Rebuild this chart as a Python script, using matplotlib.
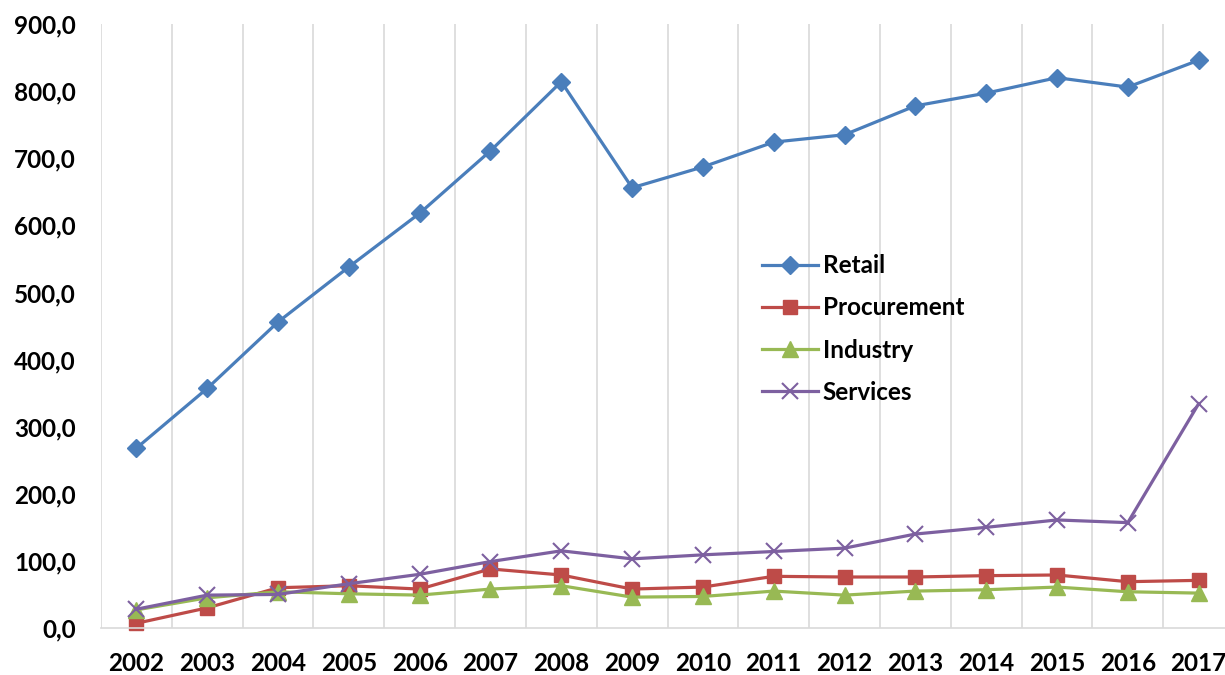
import matplotlib
matplotlib.use("Agg")
import matplotlib.pyplot as plt
from matplotlib.ticker import FuncFormatter, FixedLocator

years = [str(y) for y in range(2002, 2018)]
retail = [268, 357, 456, 538, 618, 711, 814, 656, 687, 724, 735, 778, 797, 820, 806, 846]
procurement = [7, 30, 60, 63, 58, 88, 79, 58, 61, 77, 76, 76, 78, 79, 69, 71]
industry = [27, 45, 54, 51, 49, 58, 63, 46, 47, 55, 49, 55, 57, 61, 54, 52]
services = [28, 49, 50, 66, 80, 99, 115, 103, 109, 114, 119, 140, 150, 161, 157, 334]

plt.rcParams["font.family"] = ["Lato", "DejaVu Sans"]
plt.rcParams["font.weight"] = "bold"

fig = plt.figure(figsize=(12.25, 6.75), dpi=100)
ax = fig.add_axes([101 / 1225, 47 / 675, 1133 / 1225, 604 / 675])

x = list(range(len(years)))
ax.plot(x, retail, color="#4A7EBB", lw=2.3, marker="D", ms=9.5, label="Retail", clip_on=False)
ax.plot(x, procurement, color="#BE4B48", lw=2.3, marker="s", ms=10.5, label="Procurement", clip_on=False)
ax.plot(x, industry, color="#98B954", lw=2.3, marker="^", ms=12, label="Industry", clip_on=False)
ax.plot(x, services, color="#7D60A0", lw=2.3, marker="x", ms=12, mew=1.5, label="Services", clip_on=False)

ax.set_xlim(-0.5, len(years) - 0.5)
ax.set_ylim(0, 900)
ax.set_xticks(x)
ax.set_xticklabels(years)
ax.xaxis.set_minor_locator(FixedLocator([i - 0.5 for i in range(len(years) + 1)]))
ax.grid(which="minor", axis="x", color="#d9d9d9", lw=1.2)
ax.set_yticks(range(0, 901, 100))
ax.yaxis.set_major_formatter(FuncFormatter(lambda v, p: f"{v:.1f}".replace(".", ",")))
ax.tick_params(axis="both", which="both", length=0, labelsize=17.5)
ax.tick_params(axis="x", pad=17)
ax.tick_params(axis="y", pad=18)
for s in ["top", "right", "left"]:
    ax.spines[s].set_visible(False)
ax.spines["bottom"].set_color("#d9d9d9")
ax.spines["bottom"].set_linewidth(1.2)
ax.set_axisbelow(True)

ax.legend(loc="upper left", bbox_to_anchor=(750 / 1225, 1 - 242 / 675),
          bbox_transform=fig.transFigure, frameon=False, fontsize=17.5,
          handlelength=2.3, handletextpad=0.2, labelspacing=0.79, borderpad=0)

fig.savefig("out.png", dpi=100)
